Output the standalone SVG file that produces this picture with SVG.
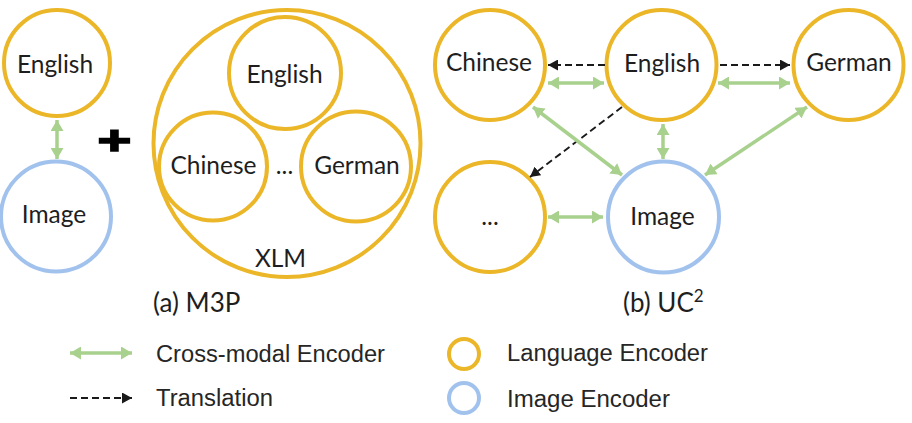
<svg xmlns="http://www.w3.org/2000/svg" width="912" height="423" viewBox="0 0 912 423">
<defs>
<style>
.lang{fill:none;stroke:#EBB729;stroke-width:4}
.img{fill:none;stroke:#A2C2EE;stroke-width:4}
.lbl{font-family:Lato,Carlito,"Noto Sans",sans-serif;font-size:24.5px;fill:#1e1e1e;text-anchor:middle}
.cap{font-family:Lato,Carlito,"Noto Sans",sans-serif;font-size:26px;fill:#1e1e1e}
.leg{font-family:"Liberation Sans",Arial,sans-serif;font-size:23px;fill:#262626}
.cm{stroke:#A9D18E;stroke-width:3.5;fill:none;marker-start:url(#gh);marker-end:url(#gh)}
.tr{stroke:#1a1a1a;stroke-width:1.9;stroke-dasharray:7 4;fill:none;marker-end:url(#bh)}
</style>
<marker id="gh" viewBox="0 0 11 13" refX="11" refY="6.5" markerWidth="11" markerHeight="13" markerUnits="userSpaceOnUse" orient="auto-start-reverse">
<path d="M0,0 L11,6.5 L0,13 z" fill="#A9D18E"/>
</marker>
<marker id="bh" viewBox="0 0 10 11" refX="10" refY="5.5" markerWidth="10" markerHeight="11" markerUnits="userSpaceOnUse" orient="auto">
<path d="M0,0 L10,5.5 L0,11 z" fill="#1a1a1a"/>
</marker>
</defs>
<rect width="912" height="423" fill="#ffffff"/>

<!-- (a) M3P -->
<g id="a-english">
<circle class="lang" cx="57" cy="63" r="53"/>
<text class="lbl" x="55" y="73">English</text>
</g>
<g id="a-image">
<circle class="img" cx="56" cy="216.5" r="55"/>
<text class="lbl" x="54" y="223">Image</text>
</g>
<g id="plus">
<text x="0" y="0" transform="translate(114.5,154) scale(1.45,1)" font-family="Liberation Sans,Arial,sans-serif" font-weight="bold" font-size="40" text-anchor="middle" fill="#000" stroke="#000" stroke-width="1.6">+</text>
</g>
<g id="xlm">
<circle class="lang" cx="287" cy="143.5" r="133.5"/>
<text class="lbl" x="280.5" y="267">XLM</text>
</g>
<g id="xlm-english">
<circle class="lang" cx="285" cy="73" r="56"/>
<text class="lbl" x="284.5" y="83">English</text>
</g>
<g id="xlm-chinese">
<circle class="lang" cx="213" cy="166.5" r="54"/>
<text class="lbl" x="213.5" y="174">Chinese</text>
</g>
<g id="xlm-dots">
<text class="lbl" x="284.5" y="174">...</text>
</g>
<g id="xlm-german">
<circle class="lang" cx="356" cy="166.5" r="55"/>
<text class="lbl" x="357" y="174">German</text>
</g>
<text class="cap" x="153" y="312">(a) M3P</text>

<!-- (b) UC2 -->
<g id="b-chinese">
<circle class="lang" cx="490" cy="65" r="55"/>
<text class="lbl" x="489" y="71">Chinese</text>
</g>
<g id="b-english">
<circle class="lang" cx="661.5" cy="65" r="55"/>
<text class="lbl" x="662" y="72">English</text>
</g>
<g id="b-german">
<circle class="lang" cx="848.5" cy="65" r="55"/>
<text class="lbl" x="849" y="71">German</text>
</g>
<g id="b-dots">
<circle class="lang" cx="490" cy="217" r="55"/>
<text class="lbl" x="490" y="225">...</text>
</g>
<g id="b-image">
<circle class="img" cx="663.5" cy="217" r="55.5"/>
<text class="lbl" x="662.5" y="225">Image</text>
</g>
<text class="cap" x="623" y="312">(b) UC<tspan font-size="17" dy="-10">2</tspan></text>

<g id="connectors">
<line class="cm" x1="57" y1="120" x2="57" y2="159"/>
<line class="tr" x1="605" y1="65" x2="548" y2="65"/>
<line class="tr" x1="720" y1="65" x2="790" y2="65"/>
<line class="tr" x1="622" y1="107" x2="530" y2="177"/>
<line class="cm" x1="548" y1="83" x2="604" y2="83"/>
<line class="cm" x1="718" y1="83" x2="790" y2="83"/>
<line class="cm" x1="533" y1="107" x2="622" y2="175"/>
<line class="cm" x1="663" y1="124" x2="663" y2="159"/>
<line class="cm" x1="807" y1="107" x2="705" y2="175"/>
<line class="cm" x1="548" y1="217" x2="603" y2="217"/>
</g>

<g id="legend">
<line class="cm" x1="70" y1="353" x2="132" y2="353"/>
<text class="leg" x="156" y="362" textLength="229" lengthAdjust="spacingAndGlyphs">Cross-modal Encoder</text>
<line class="tr" x1="70" y1="398" x2="132" y2="398"/>
<text class="leg" x="156" y="406" textLength="117" lengthAdjust="spacingAndGlyphs">Translation</text>
<circle class="lang" cx="464" cy="354" r="15"/>
<text class="leg" x="507" y="361" textLength="201" lengthAdjust="spacingAndGlyphs">Language Encoder</text>
<circle class="img" cx="464" cy="398" r="15"/>
<text class="leg" x="507" y="407" textLength="163" lengthAdjust="spacingAndGlyphs">Image Encoder</text>
</g>
</svg>
